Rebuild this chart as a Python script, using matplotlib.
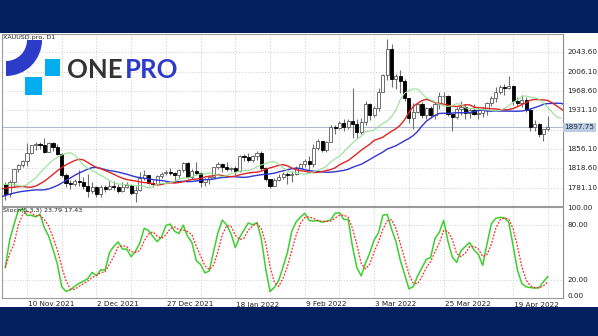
import numpy as np
import pandas as pd
import matplotlib
matplotlib.use("Agg")
import matplotlib.pyplot as plt
from matplotlib.patches import Rectangle, Wedge

# ---------------- data (XAUUSD daily) ----------------
dates = [d for d in pd.bdate_range("2021-11-03", "2022-04-29")
         if d not in (pd.Timestamp("2021-12-24"), pd.Timestamp("2022-04-15"))]

opens = [1788, 1769, 1792, 1818, 1824, 1832, 1849, 1863, 1865, 1863, 1851, 1867, 1860, 1846, 1805, 1790,
         1789, 1793, 1792, 1785, 1775, 1782, 1768, 1783, 1779, 1785, 1783, 1775, 1782, 1787, 1771, 1777,
         1799, 1805, 1790, 1789, 1803, 1809, 1812, 1810, 1805, 1815, 1829, 1801, 1814, 1810, 1791, 1797,
         1801, 1822, 1826, 1821, 1817, 1819, 1813, 1843, 1840, 1835, 1843, 1848, 1819, 1797, 1785, 1796,
         1801, 1807, 1805, 1808, 1820, 1826, 1833, 1827, 1858, 1871, 1855, 1870, 1898, 1897, 1906, 1898,
         1910, 1904, 1889, 1909, 1944, 1922, 1935, 1967, 1999, 2050, 1992, 1998, 1988, 1954, 1917, 1928,
         1943, 1921, 1935, 1921, 1943, 1958, 1958, 1923, 1918, 1933, 1937, 1925, 1932, 1923, 1925, 1931,
         1946, 1954, 1966, 1977, 1974, 1979, 1950, 1945, 1951, 1932, 1898, 1904, 1886, 1894]
highs = [1791, 1796, 1818, 1827, 1834, 1868, 1864, 1869, 1870, 1877, 1870, 1869, 1866, 1849, 1810, 1796,
         1797, 1815, 1802, 1808, 1792, 1784, 1787, 1786, 1793, 1793, 1789, 1791, 1792, 1789, 1785, 1812,
         1815, 1806, 1795, 1805, 1812, 1815, 1820, 1811, 1818, 1830, 1831, 1818, 1830, 1812, 1800, 1803,
         1822, 1830, 1829, 1831, 1822, 1823, 1845, 1847, 1848, 1845, 1852, 1853, 1822, 1798, 1800, 1808,
         1812, 1812, 1814, 1823, 1829, 1836, 1842, 1865, 1875, 1871, 1871, 1902, 1902, 1910, 1914, 1914,
         1974, 1914, 1917, 1950, 1945, 1940, 1974, 2002, 2070, 2059, 2001, 2009, 1991, 1955, 1946, 1946,
         1947, 1937, 1939, 1948, 1966, 1966, 1960, 1926, 1938, 1949, 1943, 1936, 1944, 1935, 1938, 1948,
         1959, 1977, 1981, 1982, 1998, 1981, 1957, 1960, 1957, 1936, 1912, 1907, 1894, 1920]
lows = [1758, 1763, 1782, 1812, 1822, 1823, 1846, 1855, 1856, 1849, 1850, 1853, 1844, 1801, 1782, 1778,
        1785, 1785, 1778, 1762, 1770, 1762, 1762, 1773, 1776, 1777, 1771, 1772, 1781, 1766, 1753, 1775,
        1795, 1788, 1782, 1787, 1799, 1805, 1805, 1790, 1799, 1812, 1799, 1798, 1806, 1782, 1785, 1789,
        1800, 1818, 1812, 1814, 1814, 1806, 1811, 1833, 1831, 1830, 1835, 1815, 1794, 1780, 1785, 1793,
        1798, 1789, 1792, 1805, 1817, 1822, 1815, 1822, 1855, 1850, 1850, 1869, 1885, 1894, 1891, 1895,
        1878, 1877, 1886, 1903, 1913, 1919, 1930, 1966, 1989, 1977, 1973, 1965, 1950, 1906, 1895, 1925,
        1917, 1914, 1916, 1915, 1934, 1946, 1920, 1890, 1914, 1922, 1915, 1917, 1921, 1915, 1918, 1922,
        1940, 1947, 1962, 1961, 1973, 1941, 1940, 1937, 1928, 1891, 1890, 1880, 1872, 1890]
closes = [1769, 1792, 1818, 1824, 1832, 1849, 1863, 1865, 1863, 1851, 1867, 1860, 1846, 1805, 1790, 1789,
          1793, 1792, 1785, 1775, 1782, 1768, 1783, 1779, 1785, 1783, 1775, 1782, 1787, 1771, 1777, 1799,
          1805, 1790, 1789, 1803, 1808, 1812, 1810, 1805, 1815, 1829, 1801, 1814, 1810, 1791, 1797, 1801,
          1822, 1826, 1821, 1817, 1819, 1813, 1843, 1840, 1835, 1843, 1848, 1819, 1797, 1785, 1796, 1801,
          1807, 1805, 1808, 1820, 1826, 1833, 1827, 1858, 1871, 1855, 1870, 1898, 1897, 1906, 1898, 1910,
          1904, 1889, 1909, 1944, 1922, 1935, 1967, 1999, 2050, 1992, 1998, 1988, 1954, 1917, 1928, 1943,
          1921, 1935, 1921, 1943, 1958, 1958, 1923, 1918, 1933, 1937, 1925, 1932, 1923, 1925, 1931, 1946,
          1954, 1966, 1977, 1974, 1979, 1950, 1945, 1951, 1932, 1898, 1904, 1886, 1894, 1897.75]

# median prices of the bars before the first visible one (seed the Alligator lines at the left edge)
prior_median = [1748, 1753, 1741, 1731, 1743, 1752, 1764, 1758, 1756, 1758, 1765, 1755, 1758, 1775,
                1795, 1779, 1766, 1772, 1776, 1780, 1797, 1800, 1796, 1795, 1792, 1785, 1789, 1787]

price_levels = [1781.10, 1818.60, 1856.10, 1893.60, 1931.10, 1968.60, 2006.10, 2043.60]
price_labels = ["1781.10", "1818.60", "1856.10", "", "1931.10", "1968.60", "2006.10", "2043.60"]
stoch_levels = [0, 20, 80, 100]
stoch_labels = ["0.00", "20.00", "80.00", "100.00"]
date_labels = ["10 Nov 2021", "2 Dec 2021", "27 Dec 2021", "18 Jan 2022",
               "9 Feb 2022", "3 Mar 2022", "25 Mar 2022", "19 Apr 2022"]
title_text = "XAUUSD.pro, D1"
stoch_text = "Stoch(5,3,3) 23.79 17.43"

# ---------------- indicators ----------------
o = np.array(opens, float); h = np.array(highs, float)
l = np.array(lows, float); c = np.array(closes, float)
n = len(c)
idx = np.arange(n)

med = np.concatenate([np.array(prior_median, float), (h + l) / 2])
med_x = np.arange(len(med)) - len(prior_median)

def smma(src, period):
    out = np.full(len(src), np.nan)
    out[period - 1] = src[:period].mean()
    for i in range(period, len(src)):
        out[i] = (out[i - 1] * (period - 1) + src[i]) / period
    return out

jaw = smma(med, 13); teeth = smma(med, 8); lips = smma(med, 5)

hs = pd.Series(h); ls = pd.Series(l); cs = pd.Series(c)
hh = hs.rolling(5, min_periods=1).max(); ll = ls.rolling(5, min_periods=1).min()
num = (cs - ll).rolling(3, min_periods=1).sum()
den = (hh - ll).rolling(3, min_periods=1).sum()
k_line = 100 * num / den
d_line = k_line.rolling(3, min_periods=1).mean()

# ---------------- figure ----------------
W, H = 598, 336
fig = plt.figure(figsize=(W / 100, H / 100), dpi=100)
fig.patch.set_facecolor("#03205e")

bg = fig.add_axes([0, 0, 1, 1], zorder=0)
bg.set_xlim(0, W); bg.set_ylim(H, 0); bg.axis("off")
bg.add_patch(Rectangle((0, 33), W, 273.7, facecolor="white", edgecolor="none"))

x0, x1 = 2, 563
main_top, main_bot = 33.5, 206
st_top, st_bot = 206.5, 298
ax = fig.add_axes([x0 / W, 1 - main_bot / H, (x1 - x0) / W, (main_bot - main_top) / H], zorder=1)
ax2 = fig.add_axes([x0 / W, 1 - st_bot / H, (x1 - x0) / W, (st_bot - st_top) / H], zorder=1)

xlim = (-0.76, 128.5)
for a in (ax, ax2):
    a.set_facecolor("none")
    a.set_xlim(*xlim)
    for s in a.spines.values():
        s.set_color("#9a9a9a"); s.set_linewidth(0.8)
    a.spines["right"].set_color("#8c8c8c")
    a.tick_params(left=False, labelleft=False, bottom=False, labelbottom=False)

ax.set_ylim(1745.4, 2080.1)
ax2.set_ylim(0, 100)

grid_x = np.arange(5, 129, 8)
grid_kw = dict(color="#cfcfcf", lw=0.6, linestyle=(0, (1.5, 2)), zorder=0)
for gx in grid_x:
    ax.axvline(gx, **grid_kw); ax2.axvline(gx, **grid_kw)
for lv in price_levels:
    ax.axhline(lv, **grid_kw)
for lv in (20, 80):
    ax2.axhline(lv, **grid_kw)

# candles
bull = c >= o
wick_col = "#6e6e6e"
ax.vlines(idx, l, h, color=wick_col, lw=0.8, zorder=2)
body_bot = np.minimum(o, c); body_h = np.maximum(np.abs(c - o), 0.8)
ax.bar(idx[bull], body_h[bull], bottom=body_bot[bull], width=0.72,
       facecolor="white", edgecolor="#5a5a5a", linewidth=0.6, zorder=3)
ax.bar(idx[~bull], body_h[~bull], bottom=body_bot[~bull], width=0.72,
       facecolor="black", edgecolor="black", linewidth=0.6, zorder=3)

# Alligator (jaw shift 8, teeth shift 5, lips shift 3)
ax.plot(med_x + 8, jaw, color="#2f36d0", lw=1.0, zorder=4)
ax.plot(med_x + 5, teeth, color="#e02424", lw=1.0, zorder=4)
ax.plot(med_x + 3, lips, color="#93e393", lw=0.8, zorder=4)

# current price line + label
cur = c[-1]
ax.axhline(cur, color="#aebbd0", lw=0.8, zorder=1)
ax.text(1.0 + 1.5 / 561, cur, f"{cur:.2f}", transform=ax.get_yaxis_transform(),
        ha="left", va="center", fontsize=5.2, color="#1c2c4c", clip_on=False,
        bbox=dict(boxstyle="square,pad=0.25", facecolor="#bccbe0", edgecolor="none"))

for lv, lab in zip(price_levels, price_labels):
    if lab:
        ax.text(1.0 + 4 / 561, lv, lab, transform=ax.get_yaxis_transform(),
                ha="left", va="center", fontsize=5.2, color="#222222", clip_on=False)
stoch_pos = [2.0, 20, 80, 98]
for lv, lab in zip(stoch_pos, stoch_labels):
    ax2.text(1.0 + 4 / 561, lv, lab, transform=ax2.get_yaxis_transform(),
             ha="left", va="center", fontsize=5.2, color="#222222", clip_on=False)

# stochastic
ax2.plot(idx, k_line, color="#3ccf2e", lw=1.1, zorder=3)
ax2.plot(idx, d_line, color="#ff2a2a", lw=0.9, linestyle=(0, (1.5, 1.2)), zorder=3)

# date labels
for i, lab in zip(range(5, 129, 16), date_labels):
    ax2.text(i + 0.2, -3.5 / 91.5, lab, transform=ax2.get_xaxis_transform(),
             ha="left", va="top", fontsize=5.2, color="#222222", clip_on=False)

# ---------------- overlay: titles + logo ----------------
ov = fig.add_axes([0, 0, 1, 1], zorder=5)
ov.set_xlim(0, W); ov.set_ylim(0, H); ov.axis("off"); ov.set_facecolor("none")
ov.text(3, H - 37, title_text, fontsize=4.6, ha="left", va="center", color="#222222")
ov.text(3, H - 210.5, stoch_text, fontsize=4.6, ha="left", va="center", color="#222222")

ov.add_patch(Wedge((6, H - 40), 36, 270, 360, width=15, facecolor="#2c3cc8", edgecolor="none"))
ov.add_patch(Rectangle((45, H - 76), 15, 17, facecolor="#03aef0", edgecolor="none"))
ov.add_patch(Rectangle((25, H - 95), 17, 18, facecolor="#03aef0", edgecolor="none"))
t_one = ov.text(67, H - 78.5, "ONE", fontsize=18.5, fontweight="bold", family="Lato",
                color="#333333", ha="left", va="baseline")
renderer = fig.canvas.get_renderer()
bb = t_one.get_window_extent(renderer=renderer)
ov.text(bb.x1 + 2, H - 78.5, "PRO", fontsize=18.5, fontweight="bold", family="Lato",
        color="#2c3cc8", ha="left", va="baseline")

fig.savefig("out.png", dpi=100, facecolor=fig.get_facecolor())
